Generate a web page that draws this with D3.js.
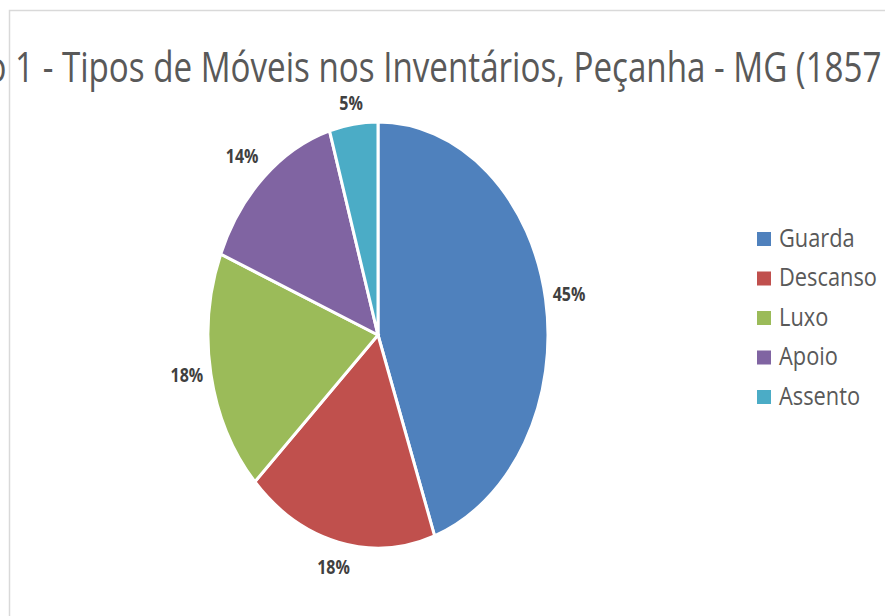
<!DOCTYPE html>
<html><head><meta charset="utf-8">
<script src="https://cdn.jsdelivr.net/npm/d3@7"></script>
<style>body{margin:0;background:#fff}svg{display:block}</style>
</head><body>
<svg id="c" width="885" height="616"></svg>
<script>
const categories = ["Guarda","Descanso","Luxo","Apoio","Assento"];
const values = [44.6, 18.3, 18.3, 14.2, 4.6];
const colors = ["#4F81BD","#C0504D","#9BBB59","#8064A2","#4BACC6"];
const title = "Gráfico 1 - Tipos de Móveis nos Inventários, Peçanha - MG (1857 - 1888)";
const font = "'Open Sans', sans-serif";

const svg = d3.select("#c");
svg.append("rect").attr("width",885).attr("height",616).attr("fill","#fff");
svg.append("path").attr("d","M9.5,616V10.5H885").attr("fill","none").attr("stroke","#d9d9d9").attr("stroke-width",1.5);

// Title
const tg = svg.append("g");
const tt = tg.append("text").text(title).attr("font-family",font).attr("font-size",42)
  .attr("fill","#595959").attr("y",82);
const iT = title.indexOf("Tipos");
const i7 = title.indexOf("1857")+3;
const node = tt.node();
const xT = node.getStartPositionOfChar(iT).x;
const x7 = node.getEndPositionOfChar(i7).x;
const sx = (882-62)/(x7-xT);
tg.attr("transform",`translate(${62 - xT*sx},0) scale(${sx},1)`);

// Pie
const cx=378, cy=335, rx=170, ry=213;
const pie = d3.pie().sort(null).value(d=>d)(values);
const arc = d3.arc().innerRadius(0).outerRadius(rx);
const pg = svg.append("g").attr("transform",`translate(${cx},${cy}) scale(1,${ry/rx})`);
pg.selectAll("path").data(pie).join("path").attr("d",arc)
  .attr("fill",(d,i)=>colors[i]).attr("stroke","#fff").attr("stroke-width",3)
  .attr("vector-effect","non-scaling-stroke");

// Labels
const total = d3.sum(values);
const lblR = [1.14,1.12,1.14,1.16,1.1];
const lblDa = [0,0,0.02,-0.025,0];
pie.forEach((d,i)=>{
  const a=(d.startAngle+d.endAngle)/2 + lblDa[i];
  const x = cx + Math.sin(a)*rx*lblR[i];
  const y = cy - Math.cos(a)*ry*lblR[i];
  svg.append("text").attr("transform",`translate(${x},${y}) scale(0.8,1)`)
    .attr("text-anchor","middle").attr("dy","0.35em")
    .attr("font-family",font).attr("font-weight","bold").attr("font-size",20)
    .attr("fill","#404040").text(Math.round(d.value/total*100)+"%");
});

// Legend
const lg = svg.append("g");
categories.forEach((c,i)=>{
  const y = 238 + i*39.5;
  lg.append("rect").attr("x",757).attr("y",y-6).attr("width",14).attr("height",14).attr("fill",colors[i]);
  lg.append("text").attr("class","lt").attr("x",0).attr("y",0).attr("dy","0.35em")
    .attr("font-family",font).attr("font-size",25).attr("fill","#595959").text(c)
    .attr("data-y",y);
});
const wD = lg.selectAll("text.lt").filter((d,i)=>i===1).node().getComputedTextLength();
const ls = 98/wD;
lg.selectAll("text.lt").each(function(){
  const y=+this.getAttribute("data-y");
  d3.select(this).attr("transform",`translate(779,${y}) scale(${ls},1)`);
});
</script>
</body></html>
